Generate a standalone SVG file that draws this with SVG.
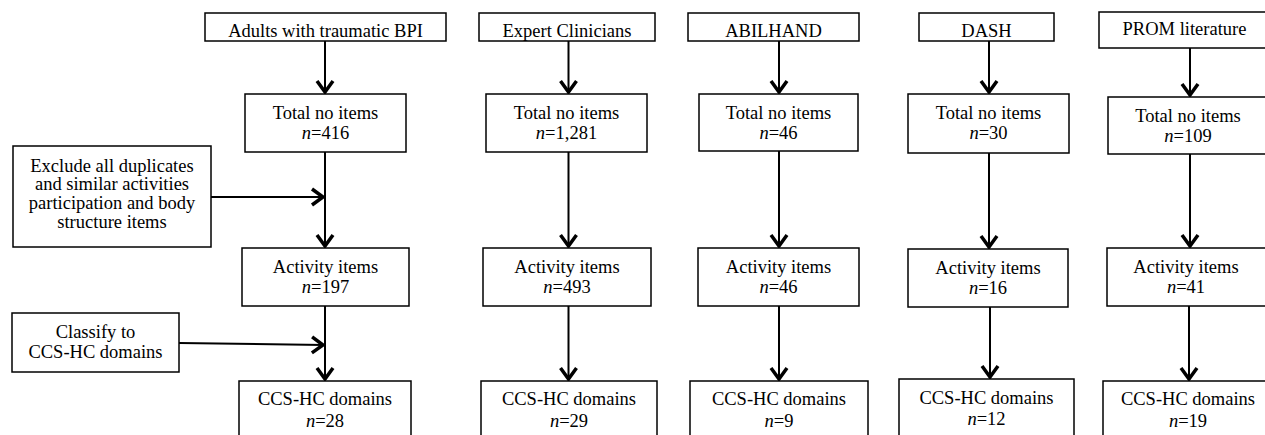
<svg xmlns="http://www.w3.org/2000/svg" width="1265" height="435" viewBox="0 0 1265 435">
<defs>
<style>
.b{fill:#fff;stroke:#000;stroke-width:1.5}
.t{font-family:"Liberation Serif","Times New Roman",serif;font-size:18.5px;fill:#000;text-anchor:middle}
.c{stroke:#000;stroke-width:2;fill:none}
</style>
<marker id="ah" markerWidth="24" markerHeight="24" viewBox="-16 -12 20 24" refX="0" refY="0" orient="auto" markerUnits="userSpaceOnUse">
<path d="M-12,-8 L-1,0 L-12,8" fill="none" stroke="#000" stroke-width="3.5" stroke-linejoin="miter"/>
</marker>
</defs>
<rect width="1265" height="435" fill="#fff"/>
<g id="connectors">
<line class="c" x1="325" y1="41" x2="325" y2="93" marker-end="url(#ah)"/>
<line class="c" x1="325" y1="152" x2="325" y2="247" marker-end="url(#ah)"/>
<line class="c" x1="325" y1="306" x2="325" y2="380" marker-end="url(#ah)"/>
<line class="c" x1="211" y1="197" x2="324" y2="197" marker-end="url(#ah)"/>
<line class="c" x1="179" y1="343" x2="324" y2="345" marker-end="url(#ah)"/>
<line class="c" x1="568.5" y1="41" x2="568.5" y2="93" marker-end="url(#ah)"/>
<line class="c" x1="568.5" y1="152" x2="568.5" y2="247" marker-end="url(#ah)"/>
<line class="c" x1="568.5" y1="306" x2="568.5" y2="380" marker-end="url(#ah)"/>
<line class="c" x1="779" y1="41" x2="779" y2="93" marker-end="url(#ah)"/>
<line class="c" x1="779" y1="151" x2="779" y2="247" marker-end="url(#ah)"/>
<line class="c" x1="779" y1="306" x2="779" y2="380" marker-end="url(#ah)"/>
<line class="c" x1="989" y1="41" x2="989" y2="93" marker-end="url(#ah)"/>
<line class="c" x1="989" y1="153" x2="989" y2="248" marker-end="url(#ah)"/>
<line class="c" x1="990" y1="307" x2="990" y2="378" marker-end="url(#ah)"/>
<line class="c" x1="1190" y1="48" x2="1190" y2="96" marker-end="url(#ah)"/>
<line class="c" x1="1190" y1="154" x2="1190" y2="247" marker-end="url(#ah)"/>
<line class="c" x1="1189" y1="306" x2="1189" y2="380" marker-end="url(#ah)"/>
</g>
<g id="n1-title"><rect class="b" x="205" y="13" width="241" height="28"/><text class="t" x="325.5" y="37">Adults with traumatic BPI</text></g>
<g id="n1-total"><rect class="b" x="245" y="94" width="161" height="58"/><text class="t" x="325.5" y="119">Total no items</text><text class="t" x="325.5" y="139"><tspan font-style="italic">n</tspan>=416</text></g>
<g id="n1-activity"><rect class="b" x="242" y="248" width="167" height="58"/><text class="t" x="325.5" y="273">Activity items</text><text class="t" x="325.5" y="293"><tspan font-style="italic">n</tspan>=197</text></g>
<g id="n1-ccs"><rect class="b" x="239" y="381" width="172" height="70"/><text class="t" x="325" y="405">CCS-HC domains</text><text class="t" x="325" y="427"><tspan font-style="italic">n</tspan>=28</text></g>
<g id="exclude"><rect class="b" x="13" y="146" width="198" height="101"/><text class="t" x="112" y="172">Exclude all duplicates</text><text class="t" x="112" y="190">and similar activities</text><text class="t" x="112" y="209">participation and body</text><text class="t" x="112" y="228">structure items</text></g>
<g id="classify"><rect class="b" x="12" y="313" width="167" height="59"/><text class="t" x="95.5" y="338">Classify to</text><text class="t" x="95.5" y="358">CCS-HC domains</text></g>
<g id="n2-title"><rect class="b" x="479" y="13" width="176" height="28"/><text class="t" x="567" y="37">Expert Clinicians</text></g>
<g id="n2-total"><rect class="b" x="486" y="94" width="161" height="58"/><text class="t" x="566.5" y="119">Total no items</text><text class="t" x="566.5" y="139"><tspan font-style="italic">n</tspan>=1,281</text></g>
<g id="n2-activity"><rect class="b" x="483" y="248" width="168" height="58"/><text class="t" x="567" y="273">Activity items</text><text class="t" x="567" y="293"><tspan font-style="italic">n</tspan>=493</text></g>
<g id="n2-ccs"><rect class="b" x="481" y="381" width="176" height="70"/><text class="t" x="569" y="405">CCS-HC domains</text><text class="t" x="569" y="427"><tspan font-style="italic">n</tspan>=29</text></g>
<g id="n3-title"><rect class="b" x="688" y="13" width="171" height="28"/><text class="t" x="773.5" y="37">ABILHAND</text></g>
<g id="n3-total"><rect class="b" x="699" y="94" width="159" height="57"/><text class="t" x="778.5" y="119">Total no items</text><text class="t" x="778.5" y="139"><tspan font-style="italic">n</tspan>=46</text></g>
<g id="n3-activity"><rect class="b" x="698" y="248" width="161" height="58"/><text class="t" x="778.5" y="273">Activity items</text><text class="t" x="778.5" y="293"><tspan font-style="italic">n</tspan>=46</text></g>
<g id="n3-ccs"><rect class="b" x="690" y="381" width="178" height="70"/><text class="t" x="779" y="405">CCS-HC domains</text><text class="t" x="779" y="427"><tspan font-style="italic">n</tspan>=9</text></g>
<g id="n4-title"><rect class="b" x="919" y="13" width="135" height="28"/><text class="t" x="986.5" y="37">DASH</text></g>
<g id="n4-total"><rect class="b" x="908" y="94" width="161" height="59"/><text class="t" x="988.5" y="119">Total no items</text><text class="t" x="988.5" y="139"><tspan font-style="italic">n</tspan>=30</text></g>
<g id="n4-activity"><rect class="b" x="908" y="249" width="160" height="58"/><text class="t" x="988" y="274">Activity items</text><text class="t" x="988" y="294"><tspan font-style="italic">n</tspan>=16</text></g>
<g id="n4-ccs"><rect class="b" x="899" y="379" width="175" height="70"/><text class="t" x="986.5" y="404">CCS-HC domains</text><text class="t" x="986.5" y="425"><tspan font-style="italic">n</tspan>=12</text></g>
<g id="n5-title"><rect class="b" x="1099" y="12" width="171" height="36"/><text class="t" x="1184.5" y="35">PROM literature</text></g>
<g id="n5-total"><rect class="b" x="1108" y="97" width="162" height="57"/><text class="t" x="1188" y="122">Total no items</text><text class="t" x="1188" y="142"><tspan font-style="italic">n</tspan>=109</text></g>
<g id="n5-activity"><rect class="b" x="1107" y="248" width="165" height="58"/><text class="t" x="1186" y="273">Activity items</text><text class="t" x="1186" y="293"><tspan font-style="italic">n</tspan>=41</text></g>
<g id="n5-ccs"><rect class="b" x="1103" y="381" width="170" height="70"/><text class="t" x="1188" y="405">CCS-HC domains</text><text class="t" x="1188" y="427"><tspan font-style="italic">n</tspan>=19</text></g>
</svg>
